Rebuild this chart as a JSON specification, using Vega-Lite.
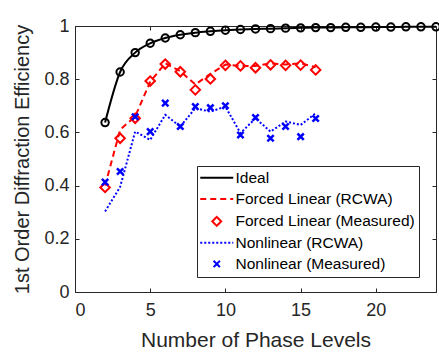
{
  "$schema": "https://vega.github.io/schema/vega-lite/v6.json",
  "width": 361,
  "height": 266,
  "autosize": {"type": "none"},
  "padding": {"left": 75, "top": 26, "right": 3, "bottom": 64},
  "background": "white",
  "config": {
    "view": {"stroke": "#262626", "strokeWidth": 1},
    "font": "Liberation Sans",
    "axis": {
      "labelFont": "Liberation Sans",
      "titleFont": "Liberation Sans",
      "labelColor": "#262626",
      "titleColor": "#262626",
      "domainColor": "#262626",
      "tickColor": "#262626",
      "grid": false,
      "titleFontWeight": "normal",
      "tickSize": -4
    }
  },
  "datasets": {
    "pts": [
      {"N": 2, "value": 0.637, "series": "Ideal"},
      {"N": 3, "value": 0.827, "series": "Ideal"},
      {"N": 4, "value": 0.900, "series": "Ideal"},
      {"N": 5, "value": 0.935, "series": "Ideal"},
      {"N": 6, "value": 0.955, "series": "Ideal"},
      {"N": 7, "value": 0.967, "series": "Ideal"},
      {"N": 8, "value": 0.975, "series": "Ideal"},
      {"N": 9, "value": 0.980, "series": "Ideal"},
      {"N": 10, "value": 0.984, "series": "Ideal"},
      {"N": 11, "value": 0.987, "series": "Ideal"},
      {"N": 12, "value": 0.989, "series": "Ideal"},
      {"N": 13, "value": 0.990, "series": "Ideal"},
      {"N": 14, "value": 0.992, "series": "Ideal"},
      {"N": 15, "value": 0.993, "series": "Ideal"},
      {"N": 16, "value": 0.994, "series": "Ideal"},
      {"N": 17, "value": 0.994, "series": "Ideal"},
      {"N": 18, "value": 0.995, "series": "Ideal"},
      {"N": 19, "value": 0.995, "series": "Ideal"},
      {"N": 20, "value": 0.996, "series": "Ideal"},
      {"N": 21, "value": 0.996, "series": "Ideal"},
      {"N": 22, "value": 0.997, "series": "Ideal"},
      {"N": 23, "value": 0.997, "series": "Ideal"},
      {"N": 24, "value": 0.997, "series": "Ideal"},
      {"N": 2, "value": 0.40, "series": "Forced Linear (RCWA)"},
      {"N": 3, "value": 0.61, "series": "Forced Linear (RCWA)"},
      {"N": 4, "value": 0.66, "series": "Forced Linear (RCWA)"},
      {"N": 5, "value": 0.79, "series": "Forced Linear (RCWA)"},
      {"N": 6, "value": 0.86, "series": "Forced Linear (RCWA)"},
      {"N": 7, "value": 0.83, "series": "Forced Linear (RCWA)"},
      {"N": 8, "value": 0.78, "series": "Forced Linear (RCWA)"},
      {"N": 9, "value": 0.82, "series": "Forced Linear (RCWA)"},
      {"N": 10, "value": 0.855, "series": "Forced Linear (RCWA)"},
      {"N": 11, "value": 0.85, "series": "Forced Linear (RCWA)"},
      {"N": 12, "value": 0.85, "series": "Forced Linear (RCWA)"},
      {"N": 13, "value": 0.86, "series": "Forced Linear (RCWA)"},
      {"N": 14, "value": 0.855, "series": "Forced Linear (RCWA)"},
      {"N": 15, "value": 0.86, "series": "Forced Linear (RCWA)"},
      {"N": 16, "value": 0.845, "series": "Forced Linear (RCWA)"},
      {"N": 2, "value": 0.393, "series": "Forced Linear (Measured)"},
      {"N": 3, "value": 0.578, "series": "Forced Linear (Measured)"},
      {"N": 4, "value": 0.653, "series": "Forced Linear (Measured)"},
      {"N": 5, "value": 0.793, "series": "Forced Linear (Measured)"},
      {"N": 6, "value": 0.857, "series": "Forced Linear (Measured)"},
      {"N": 7, "value": 0.828, "series": "Forced Linear (Measured)"},
      {"N": 8, "value": 0.76, "series": "Forced Linear (Measured)"},
      {"N": 9, "value": 0.801, "series": "Forced Linear (Measured)"},
      {"N": 10, "value": 0.852, "series": "Forced Linear (Measured)"},
      {"N": 11, "value": 0.850, "series": "Forced Linear (Measured)"},
      {"N": 12, "value": 0.843, "series": "Forced Linear (Measured)"},
      {"N": 13, "value": 0.854, "series": "Forced Linear (Measured)"},
      {"N": 14, "value": 0.852, "series": "Forced Linear (Measured)"},
      {"N": 15, "value": 0.853, "series": "Forced Linear (Measured)"},
      {"N": 16, "value": 0.835, "series": "Forced Linear (Measured)"},
      {"N": 2, "value": 0.303, "series": "Nonlinear (RCWA)"},
      {"N": 3, "value": 0.395, "series": "Nonlinear (RCWA)"},
      {"N": 4, "value": 0.603, "series": "Nonlinear (RCWA)"},
      {"N": 5, "value": 0.572, "series": "Nonlinear (RCWA)"},
      {"N": 6, "value": 0.666, "series": "Nonlinear (RCWA)"},
      {"N": 7, "value": 0.622, "series": "Nonlinear (RCWA)"},
      {"N": 8, "value": 0.691, "series": "Nonlinear (RCWA)"},
      {"N": 9, "value": 0.678, "series": "Nonlinear (RCWA)"},
      {"N": 10, "value": 0.697, "series": "Nonlinear (RCWA)"},
      {"N": 11, "value": 0.597, "series": "Nonlinear (RCWA)"},
      {"N": 12, "value": 0.653, "series": "Nonlinear (RCWA)"},
      {"N": 13, "value": 0.603, "series": "Nonlinear (RCWA)"},
      {"N": 14, "value": 0.641, "series": "Nonlinear (RCWA)"},
      {"N": 15, "value": 0.628, "series": "Nonlinear (RCWA)"},
      {"N": 16, "value": 0.672, "series": "Nonlinear (RCWA)"},
      {"N": 2, "value": 0.413, "series": "Nonlinear (Measured)"},
      {"N": 3, "value": 0.453, "series": "Nonlinear (Measured)"},
      {"N": 4, "value": 0.659, "series": "Nonlinear (Measured)"},
      {"N": 5, "value": 0.603, "series": "Nonlinear (Measured)"},
      {"N": 6, "value": 0.71, "series": "Nonlinear (Measured)"},
      {"N": 7, "value": 0.622, "series": "Nonlinear (Measured)"},
      {"N": 8, "value": 0.697, "series": "Nonlinear (Measured)"},
      {"N": 9, "value": 0.693, "series": "Nonlinear (Measured)"},
      {"N": 10, "value": 0.70, "series": "Nonlinear (Measured)"},
      {"N": 11, "value": 0.59, "series": "Nonlinear (Measured)"},
      {"N": 12, "value": 0.656, "series": "Nonlinear (Measured)"},
      {"N": 13, "value": 0.578, "series": "Nonlinear (Measured)"},
      {"N": 14, "value": 0.622, "series": "Nonlinear (Measured)"},
      {"N": 15, "value": 0.584, "series": "Nonlinear (Measured)"},
      {"N": 16, "value": 0.652, "series": "Nonlinear (Measured)"}
    ]
  },
  "data": {"name": "pts"},
  "resolve": {"axis": {"x": "independent", "y": "independent"}},
  "layer": [
    {
      "transform": [{"filter": "datum.series === 'Ideal'"}],
      "mark": {"type": "line", "color": "#000000", "strokeWidth": 2, "interpolate": "monotone"},
      "encoding": {
        "x": {"field": "N", "type": "quantitative", "scale": {"domain": [0, 24], "nice": false},
          "axis": {"values": [0, 5, 10, 15, 20], "title": "Number of Phase Levels", "labelFontSize": 18, "titleFontSize": 21, "labelPadding": 13.5, "titlePadding": 10}},
        "y": {"field": "value", "type": "quantitative", "scale": {"domain": [0, 1], "nice": false},
          "axis": {"values": [0, 0.2, 0.4, 0.6, 0.8, 1], "format": "~g", "title": "1st Order Diffraction Efficiency", "labelFontSize": 18, "titleFontSize": 20, "labelPadding": 10, "titlePadding": 11}}
      }
    },
    {
      "transform": [{"filter": "datum.series === 'Forced Linear (RCWA)' || datum.series === 'Nonlinear (RCWA)'"}],
      "mark": {"type": "line", "strokeWidth": 2},
      "encoding": {
        "x": {"field": "N", "type": "quantitative", "axis": {"orient": "top", "labels": false, "title": null, "values": [0, 5, 10, 15, 20], "domain": false}},
        "y": {"field": "value", "type": "quantitative", "axis": {"orient": "right", "labels": false, "title": null, "values": [0, 0.2, 0.4, 0.6, 0.8, 1], "domain": false}},
        "color": {
          "field": "series", "type": "nominal",
          "scale": {
            "domain": ["Ideal", "Forced Linear (RCWA)", "Forced Linear (Measured)", "Nonlinear (RCWA)", "Nonlinear (Measured)"],
            "range": ["#000000", "#ff0000", "#ff0000", "#0000ff", "#0000ff"]
          },
          "legend": {
            "orient": "none", "legendX": 122, "legendY": 140, "title": null,
            "strokeColor": "#262626", "fillColor": "white", "padding": 4,
            "labelFont": "Liberation Sans", "labelFontSize": 15.5, "labelColor": "#000000", "labelLimit": 400,
            "symbolSize": 100, "symbolStrokeWidth": 2, "rowPadding": 4.3, "labelOffset": 11, "symbolOffset": 8,
            "symbolType": "stroke",
            "encode": {"symbols": {"update": {
              "shape": {"signal": "datum.value === 'Forced Linear (Measured)' ? 'diamond' : datum.value === 'Nonlinear (Measured)' ? 'M-1,-1L1,1M-1,1L1,-1' : 'M-3.3,0L3.3,0'"},
              "size": {"signal": "datum.value === 'Forced Linear (Measured)' ? 80 : datum.value === 'Nonlinear (Measured)' ? 40 : 100"},
              "strokeDash": {"signal": "datum.value === 'Forced Linear (RCWA)' ? [6, 4] : datum.value === 'Nonlinear (RCWA)' ? [2, 2] : [1, 0]"},
              "fill": {"value": "transparent"},
              "strokeWidth": {"value": 2}
            }}}
          }
        },
        "strokeDash": {
          "field": "series", "type": "nominal",
          "scale": {"domain": ["Forced Linear (RCWA)", "Nonlinear (RCWA)"], "range": [[6, 4], [2, 2]]},
          "legend": null
        }
      }
    },
    {
      "transform": [{"filter": "datum.series === 'Ideal'"}],
      "mark": {"type": "point", "shape": "circle", "filled": false, "color": "#000000", "strokeWidth": 2, "size": 55, "opacity": 1},
      "encoding": {
        "x": {"field": "N", "type": "quantitative", "axis": null},
        "y": {"field": "value", "type": "quantitative", "axis": null}
      }
    },
    {
      "transform": [{"filter": "datum.series === 'Forced Linear (Measured)'"}],
      "mark": {"type": "point", "shape": "diamond", "filled": false, "color": "#ff0000", "strokeWidth": 2, "size": 90, "opacity": 1},
      "encoding": {
        "x": {"field": "N", "type": "quantitative", "axis": null},
        "y": {"field": "value", "type": "quantitative", "axis": null}
      }
    },
    {
      "transform": [{"filter": "datum.series === 'Nonlinear (Measured)'"}],
      "mark": {"type": "point", "shape": "M-1,-1L1,1M-1,1L1,-1", "filled": false, "color": "#0000ff", "strokeWidth": 2.5, "size": 40, "opacity": 1},
      "encoding": {
        "x": {"field": "N", "type": "quantitative", "axis": null},
        "y": {"field": "value", "type": "quantitative", "axis": null}
      }
    }
  ]
}
